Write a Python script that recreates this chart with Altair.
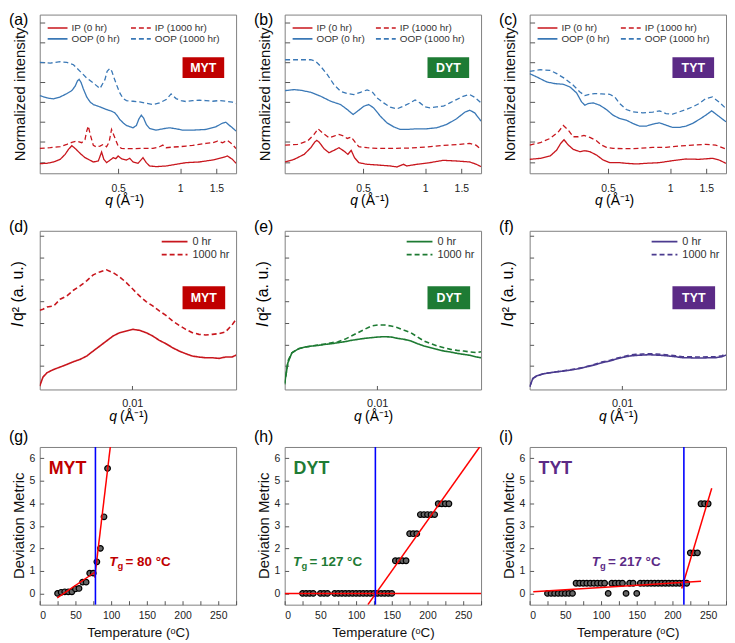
import altair as alt
import pandas as pd

FONT = "Liberation Sans"
RED = "#C8161D"
BLUE = "#3A78B6"
GREEN = "#1D7A32"
PURPLE = "#4B3B8F"
BADGE = {"MYT": "#C00000", "DYT": "#1E7B34", "TYT": "#5B2A86"}
TXT3 = {"MYT": "#C00000", "DYT": "#1E7B34", "TYT": "#5B2A86"}

W = 198
H1 = 160
H2 = 160
H3 = 159

# ---------------- Row 1: GIWAXS line cuts ----------------
a_oop1000_q = [0.208,0.234,0.2615,0.2816,0.3033,0.3266,0.3517,0.3788,0.4079,0.4312,0.442,0.4558,0.466,0.476,0.4908,0.5093,0.5286,0.5485,0.5907,0.6361,0.685,0.7377,0.7944,0.8555,0.9043,0.956,1.0106,1.0683,1.1505,1.2389,1.3342,1.4368,1.5473,1.6663,1.7944,1.87]
a_oop1000_I = [334,332,336,334,327,307,287,272,255,282,307,316,307,290,267,242,225,219,217,215,211,207,212,222,239,225,219,216,219,220,219,217,219,217,214,210]
a_oop0_q = [0.208,0.2255,0.2428,0.2615,0.2816,0.2977,0.3089,0.317,0.323,0.330,0.3389,0.3517,0.365,0.3788,0.4079,0.4392,0.4643,0.4818,0.494,0.5093,0.5286,0.5485,0.5907,0.613,0.631,0.648,0.665,0.685,0.7108,0.7655,0.8244,0.8877,0.956,1.0295,1.1505,1.3342,1.491,1.594,1.6663,1.7291,1.7944,1.87]
a_oop0_I = [234,227,224,230,240,249,262,278,283,274,254,230,215,207,200,192,187,182,174,162,152,144,137,144,164,175,166,147,135,130,134,137,134,130,130,132,140,150,154,145,137,127]
a_ip1000_q = [0.208,0.234,0.2615,0.2816,0.2977,0.3147,0.3327,0.3452,0.3517,0.3583,0.365,0.3788,0.393,0.4079,0.4233,0.4392,0.452,0.4643,0.4818,0.5,0.5189,0.5485,0.5907,0.6601,0.7377,0.7944,0.8244,0.8555,0.9212,0.992,1.0683,1.1505,1.2389,1.3342,1.4368,1.5189,1.6057,1.6974,1.7944,1.87]
a_ip1000_I = [75,77,80,87,93,97,92,102,127,142,119,84,79,82,87,80,94,132,107,82,75,74,74,75,75,80,85,77,79,80,82,84,87,90,92,97,92,99,87,74]
a_ip0_q = [0.208,0.2255,0.2428,0.2615,0.2764,0.2869,0.2977,0.3089,0.3266,0.3452,0.3583,0.3788,0.4004,0.4155,0.426,0.4392,0.4558,0.473,0.487,0.5,0.5189,0.5485,0.5692,0.5907,0.6244,0.6601,0.685,0.7108,0.7655,0.8555,0.956,1.0683,1.2389,1.4368,1.6057,1.6974,1.7944,1.87]
a_ip0_I = [29,30,34,42,57,72,83,75,60,47,42,34,37,64,42,32,39,47,44,52,44,40,45,34,30,47,32,22,20,22,27,32,34,40,47,52,42,30]

b_oop1000_q = [0.209,0.2402,0.2785,0.2944,0.3112,0.3352,0.361,0.3887,0.4186,0.4508,0.4853,0.5227,0.5526,0.5842,0.6291,0.6774,0.7295,0.7856,0.8461,0.8942,0.9454,0.9992,1.0565,1.1379,1.2253,1.3195,1.421,1.5302,1.6478,1.742,1.87]
b_oop1000_I = [342,342,342,337,322,297,267,247,240,237,244,251,246,227,212,199,194,202,212,221,212,200,197,200,202,212,222,232,237,229,212]
b_oop0_q = [0.209,0.2314,0.2492,0.2785,0.3112,0.3478,0.3887,0.4186,0.4474,0.4765,0.5037,0.5325,0.5627,0.6062,0.6527,0.703,0.757,0.8152,0.911,1.0181,1.1379,1.2715,1.421,1.559,1.6478,1.742,1.87]
b_oop0_I = [249,252,250,244,232,217,207,192,177,190,202,207,197,172,152,140,132,132,134,134,137,147,164,184,190,182,157]
b_ip1000_q = [0.209,0.2402,0.2684,0.2889,0.3022,0.317,0.3414,0.361,0.3816,0.4034,0.4186,0.4376,0.4592,0.4765,0.5227,0.5842,0.703,0.8461,1.0181,1.2253,1.4745,1.6478,1.7747,1.87]
b_ip1000_I = [85,87,97,117,134,122,107,112,117,112,105,109,92,80,77,75,75,76,79,84,87,90,84,72]
b_ip0_q = [0.209,0.2314,0.2586,0.2785,0.2911,0.2977,0.3055,0.323,0.3414,0.361,0.3816,0.4034,0.4218,0.4376,0.4541,0.4765,0.5227,0.5842,0.6774,0.7295,0.7856,0.8152,0.911,1.0565,1.2253,1.421,1.6478,1.7747,1.87]
b_ip0_I = [34,42,57,77,94,99,94,74,62,69,77,67,57,69,47,32,27,25,22,19,27,22,27,32,39,37,34,27,20]

c_oop1000_q = [0.208,0.234,0.2615,0.2816,0.3089,0.3389,0.365,0.3858,0.4079,0.4312,0.4643,0.5093,0.5385,0.5692,0.613,0.6601,0.7377,0.8244,0.8877,0.956,1.0295,1.1086,1.1939,1.2857,1.3846,1.491,1.6057,1.7291,1.87]
c_oop1000_I = [307,312,310,300,285,265,245,234,238,240,239,238,230,210,192,185,182,184,188,180,178,185,192,200,210,225,230,215,195]
c_oop0_q = [0.208,0.2255,0.252,0.2764,0.3033,0.3266,0.3517,0.3718,0.3858,0.4004,0.4233,0.4558,0.4908,0.5286,0.5692,0.613,0.6601,0.7108,0.7655,0.8244,0.8877,0.956,1.0295,1.1086,1.1939,1.2857,1.3846,1.491,1.5939,1.6974,1.87]
c_oop0_I = [300,290,275,270,268,260,242,215,205,210,212,205,192,175,165,160,150,142,142,148,152,145,138,138,142,150,162,175,188,175,155]
c_ip1000_q = [0.208,0.234,0.2615,0.2869,0.3033,0.3206,0.3389,0.3583,0.3816,0.4079,0.4392,0.4643,0.4908,0.5286,0.613,0.7108,0.8244,0.956,1.1086,1.2857,1.491,1.6663,1.87]
c_ip1000_I = [85,92,105,125,144,130,110,110,114,108,98,85,78,75,74,75,78,78,82,85,87,85,73]
c_ip0_q = [0.208,0.234,0.2615,0.2816,0.2944,0.3055,0.3206,0.3389,0.365,0.3858,0.4079,0.4392,0.473,0.5093,0.5692,0.613,0.685,0.7655,0.8877,1.0295,1.1939,1.3846,1.6057,1.7291,1.87]
c_ip0_I = [42,45,52,70,90,101,85,72,65,68,65,55,40,32,32,30,28,30,32,38,43,42,45,40,30]

# ---------------- Row 2: SAXS Iq^2 ----------------
q2 = [0.0035,0.00363,0.0038,0.0041,0.00441,0.00476,0.00513,0.00553,0.00596,0.00642,0.00692,0.00746,0.00804,0.00867,0.00935,0.01008,0.01086,0.01171,0.01262,0.0136,0.01466,0.0158,0.01703,0.01836,0.01979,0.02133,0.023,0.02479,0.02672,0.0288,0.03104,0.0325]
d_0 = [10,37,50,60,67,75,83,90,100,115,130,145,160,170,175,180,177,170,160,147,137,125,115,107,100,97,95,95,93,97,97,103]
d_1000 = [237,240,247,250,270,280,297,310,325,343,352,358,350,337,320,300,280,263,250,235,222,205,192,180,170,165,163,165,167,172,193,210]
e_0 = [20,80,110,122,127,130,132,135,137,140,143,147,150,153,155,157,158,157,153,150,145,137,130,125,120,115,112,108,105,102,97,95]
e_1000 = [15,85,110,122,127,130,133,136,140,143,150,160,170,180,190,193,193,190,185,177,170,157,145,137,130,125,120,117,115,112,110,113]
f_0 = [8,33,41,47,50,53,55,58,61,65,70,75,81,85,91,96,100,102,103,104,103,102,100,98,95,95,94,94,95,95,98,103]
f_1000 = [8,33,41,47,50,53,56,59,62,66,71,77,83,87,93,98,103,105,106,107,106,105,103,101,98,98,97,97,98,98,101,106]

# ---------------- Row 3: deviation metric ----------------
g_T = [25,30,35,40,45,50,55,60,65,70,75,80,85,90,95]
g_D = [0.0,0.05,0.07,0.07,0.07,0.2,0.22,0.5,0.5,0.9,0.9,1.4,2.0,3.4,5.55]
g_fit_T = [24.5,77.6,77.0,98.8]
g_fit_D = [-0.2,0.95,0.7,6.5]
g_fit_seg = ["a","a","b","b"]
g_tg = 78

h_T = [25,30,35,40,50,55,60,70,75,80,85,90,95,100,105,110,115,120,125,130,135,140,145,150,155,160,165,170,175,180,185,190,195,200,205,210,215,220,225,230]
h_D = [0,0,0,0,0,0,0,0,0,0,0,0,0,0,0,0,0,0,0,0,0,0,0,0,1.45,1.45,1.45,1.45,2.65,2.65,2.65,3.5,3.5,3.5,3.5,3.5,3.98,3.98,3.98,3.98]
h_fit_T = [0,275,116.5,273]
h_fit_D = [0,0,-0.5,6.5]
h_fit_seg = ["a","a","b","b"]
h_tg = 127

i_T = [25,30,35,40,45,50,55,60,65,70,75,80,85,90,95,100,105,110,115,120,125,130,135,140,145,150,155,160,165,170,175,180,185,190,195,200,205,210,215,220,225,230,235,240,245,250]
i_D = [0,0,0,0,0,0,0,0,0.45,0.45,0.45,0.45,0.45,0.45,0.45,0.45,0.45,0,0.45,0.45,0.45,0.45,0,0.45,0.45,0,0.45,0.45,0.45,0.45,0.45,0.45,0.45,0.45,0.45,0.45,0.45,0.45,0.45,0.45,1.8,1.8,1.8,3.98,3.98,3.98]
i_fit_T = [5,240,213,255]
i_fit_D = [0.07,0.54,0.22,4.67]
i_fit_seg = ["a","a","b","b"]
i_tg = 216


def one(t):
    return pd.DataFrame({"t": [t]})


def panel_label(label, y):
    return alt.Chart(one(label)).mark_text(
        align="left", baseline="top", fontSize=16, font=FONT, color="black"
    ).encode(x=alt.value(-31), y=alt.value(y), text="t:N")


def badge(name, x0, x1, y0, y1):
    r = alt.Chart(one(name)).mark_rect(color=BADGE[name]).encode(
        x=alt.value(x0), x2=alt.value(x1), y=alt.value(y0), y2=alt.value(y1))
    t = alt.Chart(one(name)).mark_text(
        color="white", fontWeight="bold", fontSize=12.5, font=FONT,
        align="center", baseline="middle"
    ).encode(x=alt.value((x0 + x1) / 2), y=alt.value((y0 + y1) / 2 + 0.5), text="t:N")
    return [r, t]


def q_title(h, x0):
    a = alt.Chart(one("q")).mark_text(
        align="left", baseline="alphabetic", fontSize=14, fontStyle="italic", font=FONT, color="black"
    ).encode(x=alt.value(x0), y=alt.value(h + 32), text="t:N")
    b = alt.Chart(one("(Å⁻¹)")).mark_text(
        align="left", baseline="alphabetic", fontSize=14, font=FONT, color="black"
    ).encode(x=alt.value(x0 + 11), y=alt.value(h + 32), text="t:N")
    return [a, b]


SERIES1 = ["IP (0 hr)", "OOP (0 hr)", "IP (1000 hr)", "OOP (1000 hr)"]


def giwaxs(label, name, curves):
    parts = []
    for s in SERIES1:
        qs, vals = curves[s]
        parts.append(pd.DataFrame({"q": qs, "I": vals, "s": s}))
    df = pd.concat(parts, ignore_index=True)
    leg = alt.Legend(
        title=None, orient="none", legendX=7, legendY=8, columns=2,
        symbolType="stroke", symbolSize=400, symbolStrokeWidth=1.6,
        labelFontSize=10, labelFont=FONT, labelColor="#333",
        columnPadding=10, rowPadding=0, clipHeight=11, labelOffset=3, padding=0,
    )
    lines = alt.Chart(df).mark_line(strokeWidth=1.3, clip=True).encode(
        x=alt.X("q:Q", scale=alt.Scale(type="log", domain=[0.208, 1.87], nice=False),
                axis=alt.Axis(values=[0.5, 1, 1.5], format="~g", title=None,
                              tickSize=5, offset=-5, labelPadding=10)),
        y=alt.Y("I:Q", scale=alt.Scale(domain=[0, 478], nice=False),
                axis=alt.Axis(values=[34, 95, 155, 215, 275, 334, 394, 453], labels=False,
                              title="Normalized intensity", titleFontSize=15,
                              tickSize=5, offset=-5, titlePadding=12)),
        color=alt.Color("s:N", scale=alt.Scale(domain=SERIES1, range=[RED, BLUE, RED, BLUE]),
                        legend=leg),
        strokeDash=alt.StrokeDash("s:N", scale=alt.Scale(domain=SERIES1,
                                  range=[[1, 0], [1, 0], [5, 3], [5, 3]]), legend=leg),
    )
    layers = [lines] + badge(name, 144, 186, 43, 64) + q_title(H1, 66) + [panel_label(label, -3)]
    return alt.layer(*layers).properties(width=W, height=H1)


def saxs(label, name, col, i0, i1000):
    df = pd.concat([
        pd.DataFrame({"q": q2, "I": i0, "s": "0 hr"}),
        pd.DataFrame({"q": q2, "I": i1000, "s": "1000 hr"}),
    ], ignore_index=True)
    leg = alt.Legend(
        title=None, orient="none", legendX=122, legendY=4.5,
        symbolType="stroke", symbolSize=676, symbolStrokeWidth=1.8, symbolStrokeColor=col,
        labelFontSize=11, labelFont=FONT, labelColor="#333",
        rowPadding=0, clipHeight=13, labelOffset=4, padding=0,
    )
    lines = alt.Chart(df).mark_line(strokeWidth=1.6, color=col, clip=True).encode(
        x=alt.X("q:Q", scale=alt.Scale(type="log", domain=[0.0035, 0.0325], nice=False),
                axis=alt.Axis(values=[0.01], format="~g", title=None, labelFontSize=11,
                              tickSize=4, offset=-4, labelPadding=8)),
        y=alt.Y("I:Q", scale=alt.Scale(domain=[0, 475], nice=False),
                axis=alt.Axis(values=[70, 135, 200, 265, 330, 395, 460], labels=False,
                              title=None, tickSize=4, offset=-4)),
        strokeDash=alt.StrokeDash("s:N", scale=alt.Scale(domain=["0 hr", "1000 hr"],
                                  range=[[1, 0], [5, 3]]), legend=leg),
    )
    yt1 = alt.Chart(one("I")).mark_text(
        align="left", baseline="middle", angle=270, fontSize=16, fontStyle="italic",
        font=FONT, color="black").encode(x=alt.value(-22), y=alt.value(97), text="t:N")
    yt2 = alt.Chart(one("q² (a. u.)")).mark_text(
        align="left", baseline="middle", angle=270, fontSize=16,
        font=FONT, color="black").encode(x=alt.value(-22), y=alt.value(91), text="t:N")
    layers = [lines] + badge(name, 144, 187, 56, 79) + q_title(H2, 70) + [yt1, yt2, panel_label(label, -12)]
    return alt.layer(*layers).properties(width=W, height=H2)


def dsc(label, name, T, D, fT, fD, fseg, tg, tg_text, tx):
    col = TXT3[name]
    X3 = alt.X("T:Q", scale=alt.Scale(domain=[0, 275], nice=False),
               axis=alt.Axis(values=list(range(0, 276, 25)),
                             labelExpr="datum.value % 50 == 0 ? datum.label : ''",
                             title="Temperature (ᵒC)", titleFontSize=13.5,
                             tickSize=4, offset=-4, labelPadding=6, titlePadding=5))
    Y3 = alt.Y("D:Q", scale=alt.Scale(domain=[-0.5, 6.5], nice=False),
               axis=alt.Axis(values=[0, 1, 2, 3, 4, 5, 6], title=None,
                             tickSize=4, offset=-4, labelPadding=5))
    pts = alt.Chart(pd.DataFrame({"T": T, "D": D})).mark_point(
        shape="circle", filled=True, size=32, fill="#666666", stroke="black",
        strokeWidth=1.2, opacity=1).encode(x=X3, y=Y3)
    fits = alt.Chart(pd.DataFrame({"T": fT, "D": fD, "seg": fseg})).mark_line(
        color="#FF0000", strokeWidth=1.5, clip=True).encode(x=X3, y=Y3, detail="seg:N")
    rule = alt.Chart(pd.DataFrame({"T": [tg]})).mark_rule(
        color="#0000FF", strokeWidth=1.6).encode(x=X3)
    ytitle = alt.Chart(one("Deviation Metric")).mark_text(
        align="center", baseline="middle", angle=270, fontSize=15,
        font=FONT, color="#111").encode(x=alt.value(-21), y=alt.value(H3 / 2), text="t:N")
    nm = alt.Chart(one(name)).mark_text(
        align="left", baseline="alphabetic", fontSize=18, fontWeight="bold",
        font=FONT, color=col).encode(x=alt.value(9), y=alt.value(27), text="t:N")
    t1 = alt.Chart(one("T")).mark_text(
        align="left", baseline="alphabetic", fontSize=13.5, fontWeight="bold",
        fontStyle="italic", font=FONT, color=col).encode(x=alt.value(tx), y=alt.value(120), text="t:N")
    t2 = alt.Chart(one("g")).mark_text(
        align="left", baseline="alphabetic", fontSize=9.5, fontWeight="bold",
        font=FONT, color=col).encode(x=alt.value(tx + 8.5), y=alt.value(123), text="t:N")
    t3 = alt.Chart(one(tg_text)).mark_text(
        align="left", baseline="alphabetic", fontSize=13.5, fontWeight="bold",
        font=FONT, color=col).encode(x=alt.value(tx + 16.5), y=alt.value(120), text="t:N")
    layers = [pts, fits, rule, ytitle, nm, t1, t2, t3, panel_label(label, -18)]
    return alt.layer(*layers).properties(width=W, height=H3)


pa = giwaxs("(a)", "MYT", {"IP (0 hr)": (a_ip0_q, a_ip0_I), "OOP (0 hr)": (a_oop0_q, a_oop0_I),
                          "IP (1000 hr)": (a_ip1000_q, a_ip1000_I), "OOP (1000 hr)": (a_oop1000_q, a_oop1000_I)})
pb = giwaxs("(b)", "DYT", {"IP (0 hr)": (b_ip0_q, b_ip0_I), "OOP (0 hr)": (b_oop0_q, b_oop0_I),
                          "IP (1000 hr)": (b_ip1000_q, b_ip1000_I), "OOP (1000 hr)": (b_oop1000_q, b_oop1000_I)})
pc = giwaxs("(c)", "TYT", {"IP (0 hr)": (c_ip0_q, c_ip0_I), "OOP (0 hr)": (c_oop0_q, c_oop0_I),
                          "IP (1000 hr)": (c_ip1000_q, c_ip1000_I), "OOP (1000 hr)": (c_oop1000_q, c_oop1000_I)})

pd_ = saxs("(d)", "MYT", RED, d_0, d_1000)
pe = saxs("(e)", "DYT", GREEN, e_0, e_1000)
pf = saxs("(f)", "TYT", PURPLE, f_0, f_1000)

pg = dsc("(g)", "MYT", g_T, g_D, g_fit_T, g_fit_D, g_fit_seg, g_tg, "= 80 °C", 70)
ph = dsc("(h)", "DYT", h_T, h_D, h_fit_T, h_fit_D, h_fit_seg, h_tg, "= 127 °C", 8.5)
pi = dsc("(i)", "TYT", i_T, i_D, i_fit_T, i_fit_D, i_fit_seg, i_tg, "= 217 °C", 62.5)

chart = alt.concat(
    pa, pb, pc, pd_, pe, pf, pg, ph, pi,
    columns=3, bounds="flush", spacing={"row": 58, "column": 49},
).resolve_scale(
    x="independent", y="independent", color="independent", strokeDash="independent"
).properties(padding=0)

chart = chart.configure_view(stroke="#808080", strokeWidth=1).configure_axis(
    domain=False, grid=False, labelFont=FONT, titleFont=FONT, labelColor="#222",
    titleColor="#111", tickColor="#555", labelFontSize=10.5, titleFontWeight="normal"
)

chart.save("out.html", embed_options={"renderer": "svg", "actions": False})
